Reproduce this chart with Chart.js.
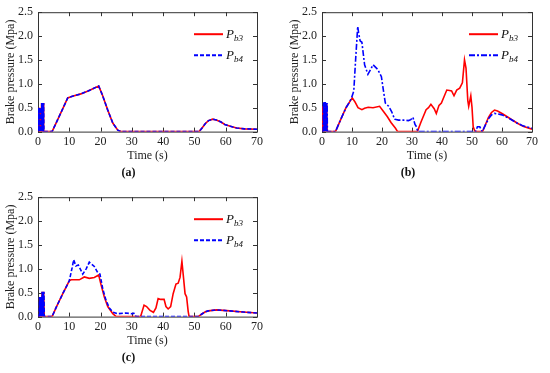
<!DOCTYPE html>
<html lang="en">
<head>
  <meta charset="UTF-8" />
  <title>Brake pressure</title>
  <script src="https://cdn.jsdelivr.net/npm/chart.js"></script>
  <style>
    body { margin: 0; background: #fff; }
    #wrap { position: relative; width: 550px; height: 373px; }
    canvas { position: absolute; }
  </style>
</head>
<body>
<div id="wrap">
  <canvas id="chartA" width="275" height="185" style="left:0;top:0"></canvas>
  <canvas id="chartB" width="266" height="185" style="left:284px;top:0"></canvas>
  <canvas id="chartC" width="275" height="185" style="left:0;top:185px"></canvas>
</div>

<script>
  // axis ticks
  const xTicks = [0, 10, 20, 30, 40, 50, 60, 70];
  const yTicks = [0, 0.5, 1.0, 1.5, 2.0, 2.5];
  const seriesNames = ['b3', 'b4'];

  // (a) Pb3 and Pb4 lie on top of each other
  const tA = [0, 0.2, 0.3, 0.4, 0.5, 0.6, 0.7, 0.8, 0.9, 1.0, 1.1, 1.2, 1.3, 1.4, 1.5, 1.6, 1.7, 1.8, 1.9, 2.0,
    4.5, 6, 8, 9.5, 11, 13.7, 16, 19.4, 20.5, 22.3, 23.9, 25.5, 26.5,
    51.5, 52.5, 53.5, 54.5, 55.8, 57, 58.5, 59.7, 61.5, 63.5, 66, 70];
  const pb3A = [0, 0.5, 0, 0.5, 0, 0.5, 0, 0.5, 0, 0.5, 0, 0.6, 0, 0.6, 0, 0.6, 0, 0.6, 0, 0,
    0, 0.21, 0.49, 0.705, 0.74, 0.79, 0.85, 0.955, 0.78, 0.45, 0.18, 0.03, 0,
    0, 0.08, 0.17, 0.23, 0.26, 0.245, 0.2, 0.15, 0.11, 0.075, 0.058, 0.05];
  const pb4A = [0, 0.5, 0, 0.5, 0, 0.5, 0, 0.5, 0, 0.5, 0, 0.6, 0, 0.6, 0, 0.6, 0, 0.6, 0, 0,
    0, 0.21, 0.49, 0.705, 0.74, 0.79, 0.85, 0.955, 0.78, 0.45, 0.18, 0.03, 0,
    0, 0.08, 0.17, 0.23, 0.26, 0.245, 0.2, 0.15, 0.11, 0.075, 0.058, 0.05];

  // (b)
  const tB3 = [0, 0.1, 0.2, 0.3, 0.4, 0.5, 0.6, 0.7, 0.8, 0.9, 1.0, 1.1, 1.2, 1.3, 1.4, 1.5, 1.6, 1.7, 1.8, 2.0,
    4.5, 6, 8, 9, 10.1, 11, 12, 13.3, 14.2, 15.4, 17, 19.2, 20.5, 21.8, 23, 24.5, 25.2,
    31.8, 33, 34.7, 35.5, 36.3, 37.4, 38.1, 39, 39.8, 40.6, 41.6, 42.5, 43.2, 44, 44.9, 45.9, 46.8,
    47.5, 48, 48.6, 48.9, 49.6, 50, 50.4, 51,
    53.5, 54.5, 55.5, 56.5, 57.5, 58.5, 60, 62, 65, 67, 70];
  const pb3B = [0.52, 0, 0.53, 0, 0.53, 0, 0.5, 0, 0.5, 0, 0.5, 0, 0.58, 0, 0.58, 0, 0.58, 0, 0, 0,
    0, 0.22, 0.5, 0.6, 0.705, 0.62, 0.5, 0.46, 0.49, 0.51, 0.5, 0.53, 0.42, 0.31, 0.19, 0.07, 0,
    0, 0.2, 0.46, 0.5, 0.57, 0.48, 0.38, 0.55, 0.6, 0.72, 0.87, 0.86, 0.85, 0.75, 0.87, 0.91, 1.02,
    1.5, 1.33, 0.65, 0.53, 0.75, 0.51, 0.1, 0,
    0, 0.15, 0.3, 0.4, 0.45, 0.43, 0.38, 0.3, 0.18, 0.11, 0.05];
  const tB4 = [0, 0.4, 0.5, 0.6, 0.7, 0.8, 0.9, 1.0, 1.1, 1.2, 1.3, 1.4, 1.5, 1.6, 1.7, 1.8,
    4.5, 6, 8, 9, 9.8, 10.6, 11.2, 11.9, 12.2, 12.7, 13.3, 14.2, 15.3, 16.2, 17, 18.6, 19.8,
    20.5, 21.1, 22.2, 23.2, 24.2, 25.5, 27.2, 28.8, 29.6, 30.3, 31, 31.5, 31.9,
    51.2, 51.8, 52.6, 53.4, 54.5, 55.5, 56.5, 57.5, 58.5, 60, 62, 65, 67, 70];
  const pb4B = [0, 0, 0.62, 0, 0.62, 0, 0.62, 0, 0.62, 0, 0.6, 0, 0.6, 0, 0.6, 0,
    0, 0.22, 0.5, 0.6, 0.7, 0.85, 1.5, 2.2, 2.07, 1.9, 1.87, 1.4, 1.2, 1.3, 1.4, 1.3, 1.15,
    0.85, 0.6, 0.53, 0.42, 0.26, 0.24, 0.24, 0.23, 0.25, 0.3, 0.15, 0.1, 0,
    0, 0.1, 0.1, 0, 0.14, 0.27, 0.35, 0.38, 0.37, 0.35, 0.29, 0.18, 0.12, 0.07];

  // (c)
  const tC3 = [0, 0.4, 0.5, 0.6, 0.7, 0.8, 0.9, 1.0, 1.1, 1.2, 1.3, 1.4, 1.5, 1.6, 1.7, 1.8, 1.9, 2.0,
    4.5, 6, 8, 10, 10.6, 13.2, 14.8, 16.4, 18, 19.4, 20.1, 21.2, 22.3, 23.9, 25,
    32.8, 33.9, 34.7, 35.8, 36.9, 37.7, 38.4, 39.2, 40.3, 40.9, 41.6, 42.4, 43.2, 44.1, 44.8, 45.4,
    46, 46.4, 47, 47.5, 48, 48.3,
    51.2, 52.5, 53.5, 54.4, 57.1, 61.3, 65.6, 70];
  const pb3C = [0, 0, 0.41, 0, 0.41, 0, 0.41, 0, 0.41, 0, 0.52, 0, 0.52, 0, 0.52, 0, 0.52, 0,
    0, 0.22, 0.49, 0.75, 0.77, 0.77, 0.83, 0.8, 0.82, 0.87, 0.68, 0.41, 0.21, 0.06, 0,
    0, 0.24, 0.21, 0.13, 0.09, 0.18, 0.38, 0.36, 0.36, 0.21, 0.16, 0.21, 0.48, 0.68, 0.7, 0.82,
    1.16, 0.89, 0.48, 0.41, 0.11, 0,
    0, 0.06, 0.1, 0.12, 0.14, 0.12, 0.095, 0.075];
  const tC4 = [0, 0.4, 0.5, 0.6, 0.7, 0.8, 0.9, 1.0, 1.1, 1.2, 1.3, 1.4, 1.5, 1.6, 1.7, 1.8, 1.9, 2.0,
    4.5, 6, 8, 10, 10.9, 11.4, 12.1, 12.9, 14.3, 15.4, 16.4, 18, 19.1, 19.8, 20.7, 21.7, 22.8, 24,
    25.4, 28, 30, 30.6, 31, 31.5,
    51.2, 52.5, 53.5, 54.4, 57.1, 61.3, 65.6, 70];
  const pb4C = [0, 0, 0.41, 0, 0.41, 0, 0.41, 0, 0.41, 0, 0.52, 0, 0.52, 0, 0.52, 0, 0.52, 0,
    0, 0.22, 0.49, 0.75, 1.02, 1.19, 1.06, 1.08, 0.89, 1.0, 1.14, 1.05, 0.92, 0.89, 0.58, 0.35, 0.18, 0.09,
    0.06, 0.075, 0.06, 0.07, 0.02, 0,
    0, 0.06, 0.1, 0.12, 0.14, 0.12, 0.095, 0.075];

  const RED = '#ff0000';
  const BLUE = '#0000ff';
  const AXIS = '#333';

  Chart.defaults.font.family = "'Liberation Serif', 'Times New Roman', serif";
  Chart.defaults.font.size = 12;
  Chart.defaults.color = '#222';

  function pts(t, v) {
    return t.map((x, i) => ({ x, y: v[i] }));
  }

  // box, inward ticks and legend with subscripts
  const framePlugin = {
    id: 'frame',
    beforeDatasetsDraw(chart) {
      const { ctx, chartArea: a, scales: { x, y } } = chart;
      ctx.save();
      ctx.strokeStyle = AXIS;
      ctx.lineWidth = 1;
      ctx.strokeRect(a.left + 0.5, a.top + 0.5, a.right - a.left, a.bottom - a.top);
      ctx.beginPath();
      x.ticks.forEach(tk => {
        const px = Math.round(x.getPixelForValue(tk.value)) + 0.5;
        ctx.moveTo(px, a.bottom); ctx.lineTo(px, a.bottom - 4);
        ctx.moveTo(px, a.top); ctx.lineTo(px, a.top + 4);
      });
      y.ticks.forEach(tk => {
        const py = Math.round(y.getPixelForValue(tk.value)) + 0.5;
        ctx.moveTo(a.left, py); ctx.lineTo(a.left + 4, py);
        ctx.moveTo(a.right, py); ctx.lineTo(a.right - 4, py);
      });
      ctx.stroke();
      ctx.restore();
    },
    afterDraw(chart) {
      const { ctx, chartArea: a } = chart;
      ctx.save();
      chart.data.datasets.forEach((ds, i) => {
        const ly = a.top + 22 + i * 21;
        const x1 = a.right - 63, x2 = a.right - 34;
        ctx.strokeStyle = ds.borderColor;
        ctx.lineWidth = 2;
        ctx.setLineDash(ds.borderDash || []);
        ctx.beginPath();
        ctx.moveTo(x1, ly); ctx.lineTo(x2, ly);
        ctx.stroke();
        ctx.setLineDash([]);
        ctx.fillStyle = '#111';
        ctx.textBaseline = 'alphabetic';
        ctx.font = "italic 13px 'Liberation Serif', serif";
        ctx.fillText('P', x2 + 3, ly + 4);
        const w = ctx.measureText('P').width;
        ctx.font = "italic 9px 'Liberation Serif', serif";
        ctx.fillText(seriesNames[i], x2 + 3 + w, ly + 7);
      });
      ctx.restore();
    }
  };

  function makeChart(id, label, t3, v3, t4, v4, dash4) {
    return new Chart(document.getElementById(id), {
      type: 'line',
      data: {
        datasets: [
          { label: 'Pb3', data: pts(t3, v3), borderColor: RED, borderWidth: 1.6, pointRadius: 0, tension: 0, order: 2 },
          { label: 'Pb4', data: pts(t4, v4), borderColor: BLUE, borderWidth: 1.6, borderDash: dash4, pointRadius: 0, tension: 0, order: 1 }
        ]
      },
      options: {
        responsive: false,
        animation: false,
        layout: { padding: { top: 9, right: 18, bottom: 5, left: 0 } },
        scales: {
          x: {
            type: 'linear', min: 0, max: 70,
            afterBuildTicks: s => { s.ticks = xTicks.map(v => ({ value: v })); },
            afterFit: s => { s.height = 34; },
            grid: { display: false, drawTicks: false },
            border: { display: false },
            ticks: { padding: 3, color: '#222' },
            title: { display: true, text: 'Time (s)', padding: { top: 0, bottom: 3 }, color: '#222' }
          },
          y: {
            type: 'linear', min: 0, max: 2.5,
            afterBuildTicks: s => { s.ticks = yTicks.map(v => ({ value: v })); },
            afterFit: s => { s.width = 38; },
            grid: { display: false, drawTicks: false },
            border: { display: false },
            ticks: { padding: 5, color: '#222', callback: v => v.toFixed(1) },
            title: { display: true, text: 'Brake pressure (Mpa)', padding: { top: 4, bottom: 0 }, color: '#222' }
          }
        },
        plugins: {
          legend: { display: false },
          tooltip: { enabled: false },
          title: {
            display: true, text: label, position: 'bottom', padding: 0,
            font: { weight: 'bold', size: 12 }, color: '#111'
          }
        }
      },
      plugins: [framePlugin]
    });
  }

  makeChart('chartA', '(a)', tA, pb3A, tA, pb4A, [4, 2]);
  makeChart('chartB', '(b)', tB3, pb3B, tB4, pb4B, [6, 2, 2, 2]);
  makeChart('chartC', '(c)', tC3, pb3C, tC4, pb4C, [4, 2]);
</script>
</body>
</html>
